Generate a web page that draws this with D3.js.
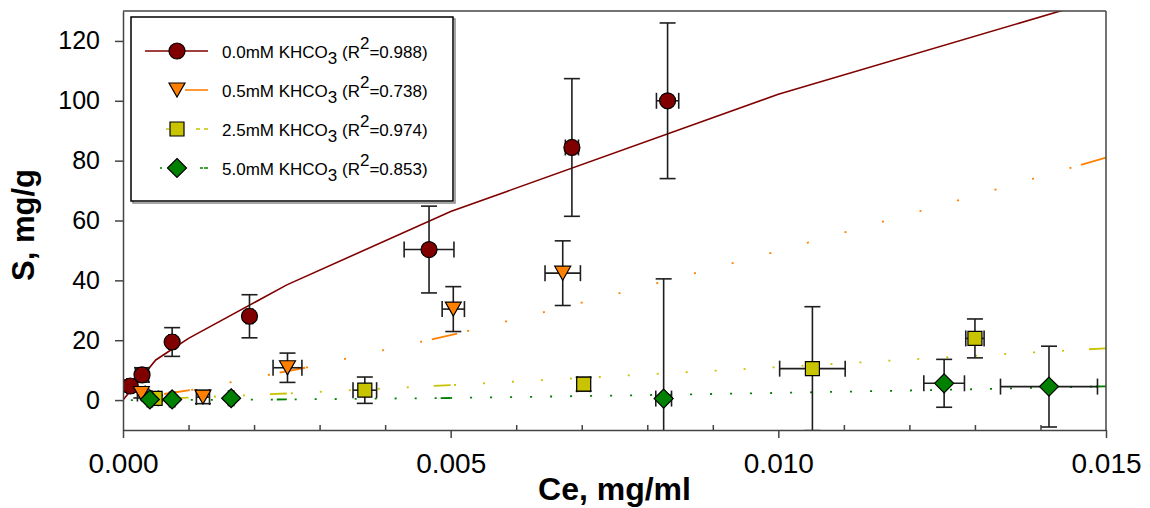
<!DOCTYPE html>
<html><head><meta charset="utf-8">
<script src="https://cdn.jsdelivr.net/npm/d3@7/dist/d3.min.js"></script>
<style>body{margin:0;background:#fff;} svg{display:block;font-family:Arial,"Liberation Sans",sans-serif;}</style>
</head><body><svg id="chart" width="1150" height="508"></svg>
<script>
// ---------- data ----------
const seriesNames = ["0.0mM", "0.5mM", "2.5mM", "5.0mM"];
const rSquared = ["0.988", "0.738", "0.974", "0.853"];
const xTicks = [0, 0.005, 0.010, 0.015];
const yTicks = [0, 20, 40, 60, 80, 100, 120];
const xTitle = "Ce, mg/ml";
const yTitle = "S, mg/g";

// 0.0 mM KHCO3
const ce00 = [0.00011, 0.00029, 0.00075, 0.00193, 0.00467, 0.00685, 0.00831];
const s00 = [4.7, 8.4, 19.4, 28.0, 50.3, 84.4, 100.0];
const sErr00 = [2.0, 2.4, 4.8, 7.2, 14.5, 23.0, 26.0];
const ceErr00 = [0.00005, 0.0001, 0.00005, 0.00005, 0.00038, 0.0001, 0.00017];
const fitCe00 = [0, 0.0005, 0.001, 0.0025, 0.005, 0.010, 0.015];
const fitS00 = [0, 13.4, 20.6, 38.5, 63.0, 102.2, 134.5];

// 0.5 mM KHCO3
const ce05 = [0.00028, 0.00122, 0.00251, 0.00504, 0.00671];
const s05 = [2.2, 1.0, 10.8, 30.4, 42.4];
const sErr05 = [1.5, 2.2, 4.9, 7.5, 10.8];
const ceErr05 = [0.00006, 0.0001, 0.00022, 0.00017, 0.00027];
const fitCe05 = [0, 0.00102, 0.00278, 0.0051, 0.0075, 0.010, 0.0125, 0.015];
const fitS05 = [0, 3.3, 10.8, 22.2, 35.3, 49.8, 65.2, 81.0];

// 2.5 mM KHCO3
const ce25 = [0.00049, 0.00369, 0.00703, 0.01052, 0.01300];
const s25 = [0.6, 3.3, 5.3, 10.5, 20.6];
const sErr25 = [1.0, 4.4, 2.3, 20.7, 6.5];
const ceErr25 = [0.00005, 0.00018, 0.0001, 0.0005, 0.00014];
const fitCe25 = [0, 0.001, 0.0025, 0.005, 0.0075, 0.010, 0.0125, 0.015];
const fitS25 = [0, 0.8, 2.2, 5.0, 8.0, 11.0, 14.2, 17.3];

// 5.0 mM KHCO3
const ce50 = [0.00041, 0.00075, 0.00165, 0.00825, 0.01253, 0.01413];
const s50 = [0.2, 0.2, 0.6, 0.5, 5.6, 4.5];
const sErr50 = [0.5, 0.5, 0.5, 40.0, 8.0, 13.5];
const ceErr50 = [0.00004, 0.00004, 0.00004, 0.00012, 0.00031, 0.00074];
const fitCe50 = [0, 0.001, 0.0025, 0.005, 0.0075, 0.010, 0.0125, 0.015];
const fitS50 = [0, 0.05, 0.2, 0.7, 1.5, 2.4, 3.4, 4.6];

// ---------- styles ----------
function pattern(first, rep, n) { let a = first.slice(); for (let i = 0; i < n; i++) a = a.concat(rep); return a.join(","); }
const styles = [
  {color: "#800000", shape: "circle", breaks: null, dash: null, legendDash: null},
  {color: "#ff8000", shape: "triDown", breaks: [1, 2, 3], dash: pattern([26, 10], [2, 37], 30), legendDash: "23,200"},
  {color: "#c8c400", shape: "square", breaks: [1, 2, 3], dash: pattern([17, 25], [2, 27], 40), legendDash: "4,4,4,27,3,200"},
  {color: "#008000", shape: "diamond", breaks: [2, 3], dash: pattern([10, 4], [2, 18], 60), legendDash: "4,1,3,38,2,200"}
];
const seriesData = [
  {ce: ce00, s: s00, sErr: sErr00, ceErr: ceErr00, fitCe: fitCe00, fitS: fitS00},
  {ce: ce05, s: s05, sErr: sErr05, ceErr: ceErr05, fitCe: fitCe05, fitS: fitS05},
  {ce: ce25, s: s25, sErr: sErr25, ceErr: ceErr25, fitCe: fitCe25, fitS: fitS25},
  {ce: ce50, s: s50, sErr: sErr50, ceErr: ceErr50, fitCe: fitCe50, fitS: fitS50}
];

// ---------- layout ----------
const svg = d3.select("#chart");
const L = 123, R = 1106, T = 11, B = 430;
const x = d3.scaleLinear().domain([0, 0.015]).range([L, R]);
const y = d3.scaleLinear().domain([-10, 130]).range([B, T]);
const axisColor = "#444";

svg.append("defs").append("clipPath").attr("id", "plotClip")
  .append("rect").attr("x", L).attr("y", T).attr("width", R - L).attr("height", B - T);

const plot = svg.append("g").attr("clip-path", "url(#plotClip)");

function shapePath(shape) {
  switch (shape) {
    case "triDown": return "M-8,-7L8,-7L0,7Z";
    case "square": return "M-7,-7H7V7H-7Z";
    case "diamond": return "M0,-9.5L9.5,0L0,9.5L-9.5,0Z";
    default: return "M8,0A8,8 0 1,1 -8,0A8,8 0 1,1 8,0Z";
  }
}

const line = d3.line().x(d => x(d[0])).y(d => y(d[1]));

// fit lines
seriesData.forEach((sd, i) => {
  const st = styles[i];
  const pts = sd.fitCe.map((c, k) => [c, sd.fitS[k]]);
  if (!st.breaks) {
    plot.append("path").attr("d", line(pts)).attr("fill", "none")
      .attr("stroke", st.color).attr("stroke-width", 1.6);
  } else {
    const idx = [0].concat(st.breaks, [pts.length - 1]);
    for (let k = 0; k < idx.length - 1; k++) {
      const seg = pts.slice(idx[k], idx[k + 1] + 1).reverse();
      plot.append("path").attr("d", line(seg)).attr("fill", "none")
        .attr("stroke", st.color).attr("stroke-width", 1.8)
        .attr("stroke-dasharray", st.dash);
    }
  }
});

// error bars + markers
seriesData.forEach((sd, i) => {
  const st = styles[i];
  const g = plot.append("g");
  sd.ce.forEach((c, k) => {
    const v = sd.s[k], e = sd.sErr[k], ex = sd.ceErr[k];
    const eb = g.append("g").attr("stroke", "#1e1e1e").attr("stroke-width", 1.6).attr("fill", "none");
    const px = x(c), py = y(v);
    const y1 = y(v + e), y2 = y(v - e), x1 = x(c - ex), x2 = x(c + ex);
    eb.append("line").attr("x1", px).attr("x2", px).attr("y1", y1).attr("y2", y2);
    eb.append("line").attr("x1", px - 8).attr("x2", px + 8).attr("y1", y1).attr("y2", y1);
    eb.append("line").attr("x1", px - 8).attr("x2", px + 8).attr("y1", y2).attr("y2", y2);
    eb.append("line").attr("x1", x1).attr("x2", x2).attr("y1", py).attr("y2", py);
    eb.append("line").attr("x1", x1).attr("x2", x1).attr("y1", py - 8).attr("y2", py + 8);
    eb.append("line").attr("x1", x2).attr("x2", x2).attr("y1", py - 8).attr("y2", py + 8);
  });
  g.selectAll("path.mk").data(sd.ce).enter().append("path").attr("class", "mk")
    .attr("d", shapePath(st.shape))
    .attr("transform", (c, k) => `translate(${x(c)},${y(sd.s[k])})`)
    .attr("fill", st.color).attr("stroke", "#000").attr("stroke-width", 1.2);
});

// ---------- axes ----------
const yAxis = svg.append("g").attr("transform", `translate(${L},0)`)
  .call(d3.axisLeft(y).tickValues(yTicks).tickSize(8).tickSizeOuter(0).tickPadding(15).tickFormat(d3.format("d")));
const xAxis = svg.append("g").attr("transform", `translate(0,${B})`)
  .call(d3.axisBottom(x).tickValues(xTicks).tickSize(8).tickSizeOuter(0).tickPadding(15).tickFormat(d3.format(".3f")));
const minorTicks = d3.range(0, 0.0155, 0.001).filter(v => Math.abs(v / 0.005 - Math.round(v / 0.005)) > 1e-6);
const xMinor = svg.append("g").attr("transform", `translate(0,${B})`)
  .call(d3.axisBottom(x).tickValues(minorTicks).tickSize(-5).tickSizeOuter(0).tickFormat(""));
xMinor.select(".domain").remove();
[yAxis, xAxis, xMinor].forEach(a => {
  a.selectAll("path,line").attr("stroke", axisColor).attr("stroke-width", 1.5);
  a.selectAll("text").attr("fill", "#000").attr("font-family", "Arial, 'Liberation Sans', sans-serif");
});
yAxis.selectAll("text").attr("font-size", 25);
xAxis.selectAll("text").attr("font-size", 28);
// frame top & right
svg.append("line").attr("x1", L).attr("x2", R).attr("y1", T).attr("y2", T).attr("stroke", axisColor).attr("stroke-width", 1.5);
svg.append("line").attr("x1", R).attr("x2", R).attr("y1", T).attr("y2", B).attr("stroke", axisColor).attr("stroke-width", 1.5);

// titles
svg.append("text").attr("x", (L + R) / 2).attr("y", 500).attr("text-anchor", "middle")
  .attr("font-size", 32).attr("font-weight", "bold").text(xTitle);
svg.append("text").attr("transform", `translate(34,225) rotate(-90)`).attr("text-anchor", "middle")
  .attr("font-size", 31).attr("font-weight", "bold").text(yTitle);

// ---------- legend ----------
const lg = svg.append("g");
lg.append("rect").attr("x", 133).attr("y", 19).attr("width", 322).attr("height", 184).attr("fill", "none").attr("stroke", "#888").attr("stroke-width", 1.5);
lg.append("rect").attr("x", 131).attr("y", 17).attr("width", 322).attr("height", 184).attr("fill", "#fff").attr("stroke", "#000").attr("stroke-width", 1.5);
const rowY = [51, 90, 129, 168];
styles.forEach((st, i) => {
  const cy = rowY[i];
  const p = lg.append("path").attr("d", `M208,${cy}L145,${cy}`).attr("stroke", st.color).attr("stroke-width", 1.6).attr("fill", "none");
  if (st.legendDash) p.attr("stroke-dasharray", st.legendDash);
  lg.append("path").attr("d", shapePath(st.shape)).attr("transform", `translate(177,${cy})`)
    .attr("fill", st.color).attr("stroke", "#000").attr("stroke-width", 1.2);
  const t = lg.append("text").attr("x", 222).attr("y", cy + 6.5).attr("font-size", 17).attr("fill", "#000");
  t.append("tspan").text(seriesNames[i] + " KHCO");
  t.append("tspan").attr("dy", 6).text("3");
  t.append("tspan").attr("dy", -6).text(" (R");
  t.append("tspan").attr("dy", -9).text("2");
  t.append("tspan").attr("dy", 9).text("=" + rSquared[i] + ")");
});
</script>
</body></html>
